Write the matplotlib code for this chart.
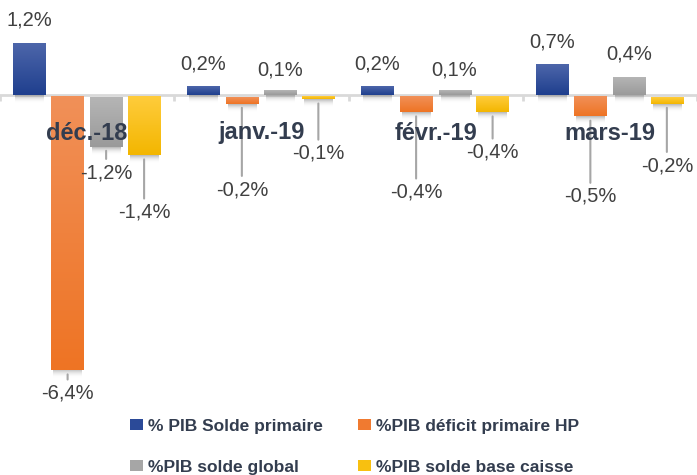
import numpy as np
import matplotlib
matplotlib.use('Agg')
import matplotlib.pyplot as plt
from matplotlib.patches import Patch
from matplotlib.colors import to_rgb

categories = ['déc.-18', 'janv.-19', 'févr.-19', 'mars-19']
series = ['% PIB Solde primaire', '%PIB déficit primaire HP', '%PIB solde global', '%PIB solde base caisse']
solde_primaire = [1.2, 0.2, 0.2, 0.7]
deficit_primaire_hp = [-6.4, -0.2, -0.4, -0.5]
solde_global = [-1.2, 0.1, 0.1, 0.4]
solde_base_caisse = [-1.4, -0.1, -0.4, -0.2]
values = [solde_primaire, deficit_primaire_hp, solde_global, solde_base_caisse]

# label distance from the bar end, in pixels (+ above, - below)
label_offsets = [
    [23, 22, 22, 23],
    [-23, -86, -80, -80],
    [-26, 21, 21, 24],
    [-57, -54, -40, -62],
]

# light top -> dark bottom
grad_colors = [('#4d66aa', '#1f3f8e'), ('#f19058', '#ee7424'),
               ('#b5b5b5', '#9a9a9a'), ('#ffcc3c', '#f3b600')]
legend_colors = ['#2b4a98', '#f07a30', '#a6a6a6', '#f8c010']

plt.rcParams['font.family'] = ['Liberation Sans', 'DejaVu Sans']
narrow = ['Liberation Sans Narrow', 'Liberation Sans', 'DejaVu Sans']

fig = plt.figure(figsize=(6.97, 4.75), dpi=100)
ax = fig.add_axes([0, 75 / 475, 1, 400 / 475])
px = 43.0  # pixels per 1 %
ax.set_xlim(-0.5, 3.5)
ax.set_ylim(-305 / px, 95 / px)
ax.axis('off')

ax.axhline(0, color='#d9d9d9', lw=2, zorder=1)
for b in np.arange(-0.5, 4.0, 1.0):
    ax.plot([b, b], [0, -6 / px], color='#d9d9d9', lw=2, zorder=1, solid_capstyle='butt')

width = 0.185
offs = [-0.333, -0.112, 0.109, 0.327]
xpx = 697 / 4.0  # pixels per category


def vgrad(x0, x1, y0, y1, c_top, c_bot, a_top=1.0, a_bot=1.0, z=2):
    n = 64
    t = np.linspace(0, 1, n)[:, None]
    ct, cb = np.array(to_rgb(c_top)), np.array(to_rgb(c_bot))
    rgb = ct * (1 - t) + cb * t
    a = a_top * (1 - t) + a_bot * t
    img = np.concatenate([rgb, a], axis=1)[:, None, :]
    ax.imshow(img, extent=[x0, x1, min(y0, y1), max(y0, y1)], aspect='auto',
              origin='upper', interpolation='bilinear', zorder=z)


for s in range(4):
    for i in range(4):
        v = values[s][i]
        xc = i + offs[s]
        x0, x1 = xc - width / 2, xc + width / 2
        top, bot = max(v, 0), min(v, 0)
        if v < 0:
            top -= 2 / px
        # soft shadow under the bar
        vgrad(x0 + 2 / xpx, x1 - 2 / xpx, bot, bot - 8 / px, '#7a7a7a', '#ffffff', 0.55, 0.0, z=2)
        vgrad(x0, x1, top, bot, grad_colors[s][0], grad_colors[s][1], z=3)

        off = label_offsets[s][i]
        txt = f'{v:.1f}%'.replace('.', ',')
        if off > 0:
            ax.annotate(txt, xy=(xc, v), xytext=(0, off), textcoords='offset pixels',
                        ha='center', va='center', fontsize=14.5, color='#404040',
                        family=narrow, annotation_clip=False)
        else:
            ax.annotate(txt, xy=(xc, v), xytext=(0, off), textcoords='offset pixels',
                        ha='center', va='center', fontsize=14.5, color='#404040',
                        family=narrow, annotation_clip=False,
                        arrowprops=dict(arrowstyle='-', color='#a6a6a6', lw=1.5,
                                        shrinkA=1, shrinkB=3))

for i, c in enumerate(categories):
    ax.text(i, -38 / px, c, ha='center', va='center', fontsize=17, fontweight='bold',
            color='#333d4f', zorder=5)

ax.set_xlim(-0.5, 3.5)
ax.set_ylim(-305 / px, 95 / px)

order = [0, 2, 1, 3]
handles = [Patch(facecolor=legend_colors[k], edgecolor='none', label=series[k]) for k in order]
leg = fig.legend(handles=handles, ncol=2, loc='upper left', bbox_to_anchor=(121 / 697, 1 - 410 / 475),
                 frameon=False, prop={'weight': 'bold', 'size': 12.5},
                 handlelength=0.75, handleheight=0.6, handletextpad=0.3,
                 columnspacing=2.0, labelspacing=1.5, borderpad=0)
for t in leg.get_texts():
    t.set_color('#333d4f')

fig.savefig('out.png', dpi=100)
